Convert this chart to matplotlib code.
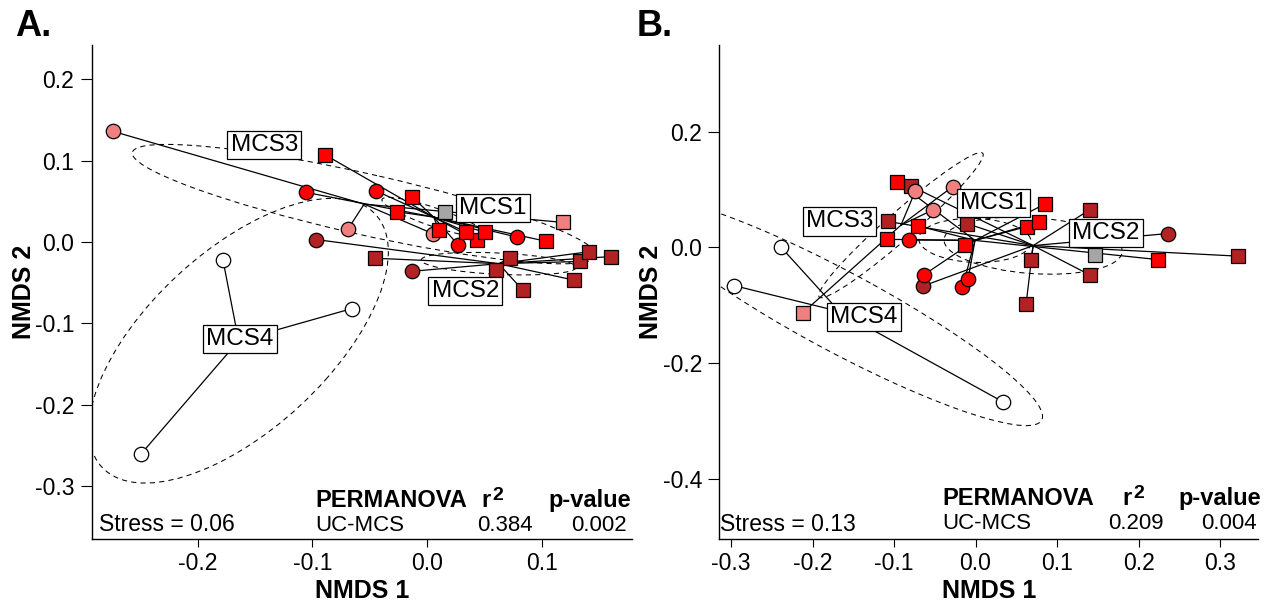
import numpy as np
import matplotlib
matplotlib.use('Agg')
import matplotlib.pyplot as plt
from matplotlib.patches import Ellipse

plt.rcParams['font.family'] = ['Liberation Sans', 'DejaVu Sans']
plt.rcParams['axes.unicode_minus'] = False

W, H = 1270, 602

# cores e marcadores
cores = {'MCS1': '#ff0000', 'MCS2': '#b22222', 'MCS3': '#f08080',
         'MCS4': '#ffffff', 'ref': '#a6a6a6'}
marcadores = {'c': 'o', 'q': 's'}
grupos = ['MCS1', 'MCS2', 'MCS3', 'MCS4']

# ---------------- Painel A ----------------
a_grupo = (['MCS2'] * 10 + ['MCS4'] * 3 + ['MCS3'] * 4 + ['ref']
           + ['MCS1'] * 12)
a_forma = (['q'] * 8 + ['c'] * 2 + ['c'] * 3 + ['c', 'c', 'c', 'q'] + ['q']
           + ['q'] + ['c'] * 4 + ['q'] * 7)
a_x = [-0.046, 0.060, 0.072, 0.083, 0.128, 0.133, 0.141, 0.160, -0.097, -0.013,
       -0.178, -0.066, -0.249,
       -0.274, -0.069, 0.005, 0.118,
       0.015,
       0.043, -0.106, -0.045, 0.027, 0.078,
       -0.089, -0.013, -0.026, 0.010, 0.034, 0.050, 0.103]
a_y = [-0.020, -0.034, -0.020, -0.059, -0.047, -0.024, -0.012, -0.018, 0.003, -0.036,
       -0.022, -0.082, -0.260,
       0.136, 0.016, 0.010, 0.024,
       0.037,
       0.002, 0.061, 0.063, -0.004, 0.006,
       0.107, 0.055, 0.037, 0.015, 0.012, 0.012, 0.001]
a_rotulos = {'MCS1': (0.057, 0.042), 'MCS2': (0.033, -0.060),
             'MCS3': (-0.142, 0.119), 'MCS4': (-0.163, -0.119)}
a_xticks = [-0.2, -0.1, 0.0, 0.1]
a_yticks = [0.2, 0.1, 0.0, -0.1, -0.2, -0.3]
a_stress = 'Stress = 0.06'
a_r2, a_p = '0.384', '0.002'

# ---------------- Painel B ----------------
b_grupo = (['MCS2'] * 10 + ['MCS4'] * 3 + ['MCS3'] * 4 + ['ref']
           + ['MCS1'] * 12)
b_forma = (['q'] * 8 + ['c'] * 2 + ['c'] * 3 + ['c', 'c', 'c', 'q'] + ['q']
           + ['c'] * 4 + ['q'] * 8)
b_x = [-0.079, -0.108, -0.010, 0.140, 0.068, 0.141, 0.062, 0.322, 0.236, -0.065,
       -0.239, -0.296, 0.034,
       -0.074, -0.028, -0.052, -0.212,
       0.147,
       -0.082, -0.063, -0.016, -0.009,
       -0.096, -0.070, -0.109, -0.013, 0.063, 0.078, 0.085, 0.224]
b_y = [0.106, 0.045, 0.041, 0.065, -0.021, -0.048, -0.098, -0.015, 0.024, -0.067,
       0.001, -0.066, -0.267,
       0.097, 0.105, 0.065, -0.113,
       -0.013,
       0.013, -0.047, -0.069, -0.054,
       0.113, 0.037, 0.014, 0.005, 0.036, 0.044, 0.075, -0.021]
b_rotulos = {'MCS1': (0.022, 0.077), 'MCS2': (0.160, 0.025),
             'MCS3': (-0.167, 0.045), 'MCS4': (-0.137, -0.120)}
b_xticks = [-0.3, -0.2, -0.1, 0.0, 0.1, 0.2, 0.3]
b_yticks = [0.2, 0.0, -0.2, -0.4]
b_stress = 'Stress = 0.13'
b_r2, b_p = '0.209', '0.004'


def txt(fig, px, py, s, **kw):
    """Texto posicionado em pixels da figura (origem no canto superior esquerdo)."""
    fig.text(px / W, 1 - py / H, s, **kw)


def desenhar_nmds(ax, xs, ys, grp, forma, rotulos):
    xs, ys, grp = np.asarray(xs), np.asarray(ys), np.asarray(grp)
    t = np.sqrt(-2 * np.log(0.05))  # qchisq(0.95, 2)

    for g in grupos:
        m = grp == g
        gx, gy = xs[m], ys[m]
        cx, cy = gx.mean(), gy.mean()
        # elipse de erro padrao (95%)
        cov = np.cov(gx, gy) / m.sum()
        vals, vecs = np.linalg.eigh(cov)
        ang = np.degrees(np.arctan2(vecs[1, 1], vecs[0, 1]))
        ax.add_patch(Ellipse((cx, cy), 2 * t * np.sqrt(vals[1]), 2 * t * np.sqrt(vals[0]),
                             angle=ang, fill=False, ec='black', lw=0.75,
                             ls=(0, (5, 4)), zorder=1))
        # aranha: centroide -> amostras
        for px, py in zip(gx, gy):
            ax.plot([cx, px], [cy, py], color='black', lw=0.9, zorder=2)

    for px, py, g, f in zip(xs, ys, grp, forma):
        ax.plot(px, py, marker=marcadores[f], ms=10.6 if f == 'q' else 10.4,
                mfc=cores[g], mec='black', mew=0.9, ls='none', zorder=3)

    for g, (lx, ly) in rotulos.items():
        ax.text(lx, ly, g, fontsize=17.5, ha='center', va='center', zorder=5,
                bbox=dict(boxstyle='square,pad=0.13', fc='white', ec='black', lw=0.9))


def estilo_eixos(ax, xlim, ylim, xticks, yticks):
    ax.set_xlim(*xlim)
    ax.set_ylim(*ylim)
    ax.set_xticks(xticks)
    ax.set_yticks(yticks)
    ax.set_xticklabels([f'{v:.1f}' for v in xticks])
    ax.set_yticklabels([f'{v:.1f}' for v in yticks])
    for s in ['top', 'right']:
        ax.spines[s].set_visible(False)
    for s in ['left', 'bottom']:
        ax.spines[s].set_linewidth(1.0)
    ax.tick_params(axis='y', length=8, width=0.8, labelsize=16.5, pad=4.5)
    ax.tick_params(axis='x', length=5.5, width=0.8, labelsize=16.5, pad=4)


fig = plt.figure(figsize=(W / 100, H / 100), dpi=100)
ax_a = fig.add_axes([91.7 / W, 1 - 539 / H, 540 / W, 494 / H])
ax_b = fig.add_axes([719.3 / W, 1 - 539 / H, 539 / W, 494 / H])

desenhar_nmds(ax_a, a_x, a_y, a_grupo, a_forma, a_rotulos)
desenhar_nmds(ax_b, b_x, b_y, b_grupo, b_forma, b_rotulos)
estilo_eixos(ax_a, (-0.2923, 0.178), (-0.365, 0.242), a_xticks, a_yticks)
estilo_eixos(ax_b, (-0.3144, 0.347), (-0.5036, 0.3497), b_xticks, b_yticks)

# rotulos dos eixos e letras dos paineis
for x0, x1 in [(91.7, 631.7), (719.3, 1258.3)]:
    txt(fig, (x0 + x1) / 2, 598, 'NMDS 1', fontsize=18, fontweight='bold',
        ha='center', va='baseline')
txt(fig, 24, 292, 'NMDS 2', fontsize=18, fontweight='bold', rotation=90,
    ha='center', va='center')
txt(fig, 651, 292, 'NMDS 2', fontsize=18, fontweight='bold', rotation=90,
    ha='center', va='center')
txt(fig, 15, 36, 'A.', fontsize=26, fontweight='bold', va='baseline')
txt(fig, 637, 36, 'B.', fontsize=26, fontweight='bold', va='baseline')

# tabela PERMANOVA e stress
for (xl, xrr, xr2, xr3, xs, yh, yr, ys, stress, r2, p) in [
        (315, 481, 533, 627, 99, 507, 531, 531, a_stress, a_r2, a_p),
        (942, 1122, 1164, 1257, 720, 505, 529, 531, b_stress, b_r2, b_p)]:
    xr = xr3 + 4
    txt(fig, xl, yh, 'PERMANOVA', fontsize=17, fontweight='bold', va='baseline')
    txt(fig, xrr, yh, 'r', fontsize=17, fontweight='bold', va='baseline')
    txt(fig, xrr + 11, yh - 7, '2', fontsize=14, fontweight='bold', va='baseline')
    txt(fig, xr, yh, 'p-value', fontsize=17, fontweight='bold', ha='right', va='baseline')
    txt(fig, xl, yr, 'UC-MCS', fontsize=16, va='baseline')
    txt(fig, xr2, yr, r2, fontsize=16, ha='right', va='baseline')
    txt(fig, xr3, yr, p, fontsize=16, ha='right', va='baseline')
    txt(fig, xs, ys, stress, fontsize=16.5, va='baseline')

fig.savefig('out.png', dpi=100)
